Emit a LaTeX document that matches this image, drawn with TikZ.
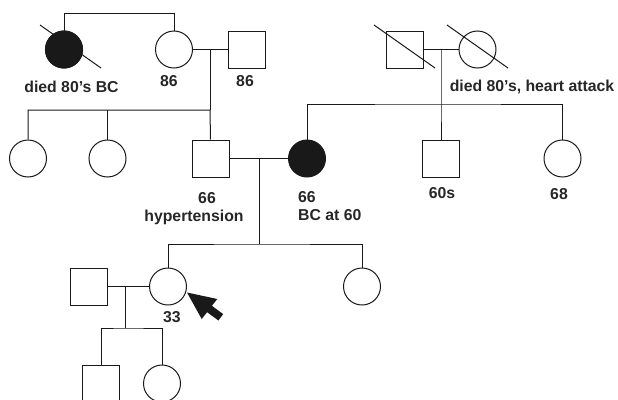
\documentclass[tikz,border=0pt]{standalone}
\usepackage{fontspec}
\setmainfont{Liberation Sans}
\begin{document}
\begin{tikzpicture}[x=1pt,y=-1pt,
  ln/.style={line width=1pt, draw=black!90},
  fem/.style={circle, ln, minimum size=37pt, inner sep=0pt, fill=white},
  femaff/.style={fem, fill=black!90},
  mal/.style={rectangle, ln, minimum size=37pt, inner sep=0pt, fill=white},
  lab/.style={font=\bfseries\fontsize{15.8}{17}\selectfont, text=black!85, inner sep=0pt}]
\useasboundingbox (0,0) rectangle (618,399);
\clip (0,0) rectangle (618,399);
% Generation I
\node[femaff] (I1) at (64,49.5) {};
\node[fem] (I2) at (174,49.5) {};
\node[mal] (I3) at (247,49.5) {};
\node[mal] (I4) at (405,49.5) {};
\node[fem] (I5) at (477.5,49.5) {};
% Generation II
\node[fem] (II1) at (28,158.5) {};
\node[fem] (II2) at (107.5,158.5) {};
\node[mal] (II3) at (210.5,158.5) {};
\node[femaff] (II4) at (307,158.5) {};
\node[mal] (II5) at (441,158.5) {};
\node[fem] (II6) at (562.5,158.5) {};
% Generation III
\node[mal] (III1) at (89,286.5) {};
\node[fem] (III2) at (168,286.5) {};
\node[fem] (III3) at (362,286.5) {};
% Generation IV
\node[mal] (IV1) at (101,383.5) {};
\node[fem] (IV2) at (162,383.5) {};
% sibling line gen I
\coordinate (s1) at (0,13);
\draw[ln] (I1.north) |- (s1 -| I2.north) -- (I2.north);
% marriage I2-I3
\draw[ln] (I2.east) -- (I3.west);
\coordinate (m1) at (210,49.5);
\coordinate (sib1) at (210,110);
\draw[ln] (m1) -- (sib1);
\draw[ln] (II1.north) |- (sib1) -- (II3.north);
\draw[ln] (II2.north) -- (II2.north |- sib1);
% marriage I4-I5
\draw[ln] (I4.east) -- (I5.west);
\coordinate (m2) at (441,49.5);
\coordinate (sib2) at (441,104);
\draw[ln] (m2) -- (sib2) -- (II5.north);
\draw[ln] (II4.north) |- (sib2) -| (II6.north);
% slashes
\draw[ln] ([shift={(-24,-24.5)}]I1.center) -- ([shift={(37,18.5)}]I1.center);
\draw[ln] ([shift={(-31,-24.5)}]I4.center) -- ([shift={(30,18.5)}]I4.center);
\draw[ln] ([shift={(-30.5,-24.5)}]I5.center) -- ([shift={(30.5,18.5)}]I5.center);
% redraw affected circle over slash
\node[femaff] at (I1.center) {};
% marriage II3-II4
\draw[ln] (II3.east) -- (II4.west);
\coordinate (m3) at (259,158.5);
\coordinate (sib3) at (259,244);
\draw[ln] (m3) -- (sib3);
\draw[ln] (III2.north) |- (sib3) -| (III3.north);
% marriage III1-III2
\draw[ln] (III1.east) -- (III2.west);
\coordinate (m4) at (125,286.5);
\coordinate (sib4) at (125,328);
\draw[ln] (m4) -- (sib4);
\draw[ln] (IV1.north) |- (sib4) -| (IV2.north);
% proband arrow
\fill[black!90] (187,292.5) -- (217.3,299) -- (211.9,305.8) -- (223.2,314.1) -- (218.4,320.5) -- (207.1,312.2) -- (201.7,319) -- cycle;
% labels
\node[lab] (t1) at (71.5,87) {died 80’s BC};
\node[lab] (t2) at (169,81) {86};
\node[lab] (t3) at (245,81) {86};
\node[lab] (t4) at (532,87) {died 80’s, heart attack};
\node[lab] (t5) at (207,198) {66};
\node[lab] (t6) at (194,217) {hypertension};
\node[lab, anchor=west] (t7) at (298,197) {66};
\node[lab, anchor=west] (t8) at (298,215.5) {BC at 60};
\node[lab] (t9) at (442,193) {60s};
\node[lab] (t10) at (559,194) {68};
\node[lab] (t11) at (172,317) {33};
\end{tikzpicture}
\end{document}
